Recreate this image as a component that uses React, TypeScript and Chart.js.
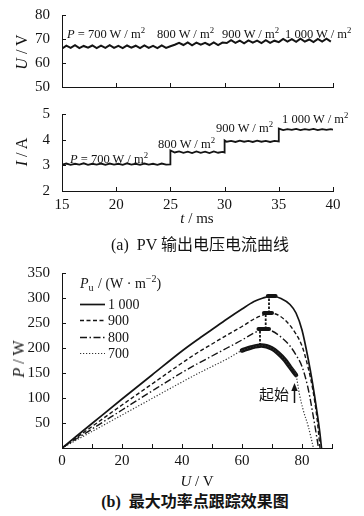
import React, { useEffect, useRef } from 'react';
import { Chart, registerables } from 'chart.js';
Chart.register(...registerables);

const SERIF = '"Liberation Serif", "DejaVu Serif", serif';
const CJK = '"Noto Sans CJK SC", "Noto Sans CJK JP", sans-serif';
const INK = '#141414';

// ---------------- data: (a) PV output voltage & current ----------------
const uTime = [
  15.0, 15.4, 15.8, 16.2, 16.6, 17.0, 17.4, 17.8, 18.2, 18.6, 19.0, 19.4, 19.8,
  20.2, 20.6, 21.0, 21.4, 21.8, 22.2, 22.6, 23.0, 23.4, 23.8, 24.2, 24.6, 25.0,
  25.4, 25.8, 26.2, 26.6, 27.0, 27.4, 27.8, 28.2, 28.6, 29.0, 29.4, 29.8,
  30.2, 30.6, 31.0, 31.4, 31.8, 32.2, 32.6, 33.0, 33.4, 33.8, 34.2, 34.6,
  35.0, 35.4, 35.8, 36.2, 36.6, 37.0, 37.4, 37.8, 38.2, 38.6, 39.0, 39.4, 39.8,
];
const uVolt = [
  66.0, 67.2, 66.3, 67.4, 66.2, 67.1, 66.4, 67.3, 66.2, 67.2, 66.3, 67.4, 66.3,
  67.1, 66.2, 67.3, 66.4, 67.2, 66.2, 67.3, 66.3, 67.1, 66.2, 67.3, 66.3, 67.0,
  67.6, 68.4, 67.5, 68.6, 67.4, 68.5, 67.6, 68.4, 67.5, 68.6, 67.5, 68.5,
  68.3, 69.5, 68.4, 69.3, 68.2, 69.4, 68.5, 69.3, 68.3, 69.5, 68.4, 69.3,
  68.7, 70.0, 68.9, 69.9, 68.8, 70.1, 68.9, 69.8, 68.7, 70.0, 68.9, 70.1, 68.9,
];
const iTime = [
  15.0, 15.4, 15.8, 16.2, 16.6, 17.0, 17.4, 17.8, 18.2, 18.6, 19.0, 19.4, 19.8,
  20.2, 20.6, 21.0, 21.4, 21.8, 22.2, 22.6, 23.0, 23.4, 23.8, 24.2, 24.6, 25.0,
  25.0, 25.4, 25.8, 26.2, 26.6, 27.0, 27.4, 27.8, 28.2, 28.6, 29.0, 29.4, 29.8, 30.0,
  30.0, 30.2, 30.6, 31.0, 31.4, 31.8, 32.2, 32.6, 33.0, 33.4, 33.8, 34.2, 34.6, 35.0,
  35.0, 35.4, 35.8, 36.2, 36.6, 37.0, 37.4, 37.8, 38.2, 38.6, 39.0, 39.4, 39.8, 40.0,
];
const iAmp = [
  3.03, 3.07, 3.02, 3.06, 3.03, 3.08, 3.02, 3.06, 3.03, 3.07, 3.02, 3.07, 3.03,
  3.06, 3.02, 3.08, 3.03, 3.06, 3.02, 3.07, 3.03, 3.06, 3.02, 3.07, 3.03, 3.04,
  3.58, 3.50, 3.54, 3.49, 3.53, 3.48, 3.54, 3.49, 3.53, 3.48, 3.54, 3.49, 3.52, 3.50,
  3.97, 3.92, 3.95, 3.91, 3.96, 3.92, 3.95, 3.91, 3.96, 3.92, 3.95, 3.91, 3.95, 3.93,
  4.43, 4.37, 4.41, 4.38, 4.42, 4.37, 4.41, 4.38, 4.42, 4.37, 4.41, 4.38, 4.41, 4.39,
];
const irradianceLabels = ['700', '800', '900', '1 000'];

// ---------------- data: (b) P-U curves & MPPT track ----------------
const pvLegendLabels = ['1 000', '900', '800', '700'];
const pv1000V = [0, 10, 20, 30, 40, 45, 50, 55, 60, 64, 67, 70, 73, 76, 78, 80, 82, 83.5, 85, 86, 86.5];
const pv1000P = [0, 49, 98, 146, 194, 216, 237, 258, 278, 293, 300, 304, 299, 287, 270, 236, 180, 130, 72, 28, 0];
const pv900V = [0, 10, 20, 30, 40, 45, 50, 55, 60, 64, 67, 69, 72, 75, 78, 80, 82, 83.5, 85, 86];
const pv900P = [0, 43, 86, 128, 170, 190, 208, 226, 243, 258, 266, 270, 266, 252, 228, 204, 162, 120, 60, 0];
const pv800V = [0, 10, 20, 30, 40, 45, 50, 55, 60, 64, 67.5, 70, 73, 76, 78, 80, 82, 84, 85.5];
const pv800P = [0, 38, 76, 114, 151, 168, 184, 200, 216, 230, 238, 234, 222, 204, 186, 163, 120, 55, 0];
const pv700V = [0, 10, 20, 30, 40, 45, 50, 55, 60, 63, 66.5, 70, 72, 74.3, 76, 78, 79.1, 80.4, 82.1, 83.2, 83.8];
const pv700P = [0, 33, 66, 99, 132, 148, 163, 178, 195, 201, 205, 199, 190, 176, 162, 146, 109, 76, 43, 16, 0];
const track700V = [60, 63, 66.5, 70, 72, 74.3, 76, 78];
const track700P = [195, 201, 205, 199, 190, 176, 162, 146];
const peakLevelP = [238, 270, 304];
const peakFromV = [65.5, 67.3, 68.6];
const peakToV = [69, 70, 71.2];
const jumpV = [66, 67.9, 69];
const jumpFromP = [205, 238, 270];
const jumpToP = [238, 270, 304];
const arrowV = 77.3;
const arrowFromP = 90;
const arrowToP = 130;

// styles (kept apart from the data)
const pvStyles = [
  { dash: [] as number[], width: 1.7, color: INK },
  { dash: [4, 2.5], width: 1.4, color: INK },
  { dash: [7, 2.5, 1.5, 2.5], width: 1.4, color: INK },
  { dash: [1.2, 1.8], width: 1.2, color: '#333' },
];

const xy = (xs: number[], ys: number[]) => xs.map((x, i) => ({ x, y: ys[i] }));

const inwardTicks = {
  id: 'inwardTicks',
  afterDatasetsDraw(chart: any) {
    const { ctx, chartArea: ca, scales } = chart;
    ctx.save();
    ctx.strokeStyle = INK;
    ctx.lineWidth = 1;
    ctx.beginPath();
    const xs = scales.x;
    const ys = scales.y;
    xs.ticks.forEach((t: any) => {
      const p = Math.round(xs.getPixelForValue(t.value)) + 0.5;
      if (Math.abs(p - ca.left) < 2) return;
      ctx.moveTo(p, ca.bottom);
      ctx.lineTo(p, ca.bottom - 4);
    });
    ys.ticks.forEach((t: any) => {
      const p = Math.round(ys.getPixelForValue(t.value)) + 0.5;
      if (Math.abs(p - ca.bottom) < 2) return;
      ctx.moveTo(ca.left, p);
      ctx.lineTo(ca.left + 4, p);
    });
    ctx.stroke();
    ctx.restore();
  },
};

function axis(min: number, max: number, step: number, opts: any = {}) {
  return {
    type: 'linear',
    min,
    max,
    grid: { display: false },
    border: { display: true, color: INK, width: 1 },
    ticks: {
      stepSize: step,
      color: INK,
      font: { family: SERIF, size: 15 },
      padding: 4,
      autoSkip: false,
      maxRotation: 0,
      ...(opts.ticks || {}),
    },
    afterFit: opts.afterFit,
  };
}

const baseOptions = (padding: any) => ({
  animation: false,
  responsive: false,
  events: [],
  layout: { padding },
  plugins: { legend: { display: false }, tooltip: { enabled: false } },
});

function cfgU(): any {
  return {
    type: 'line',
    data: {
      datasets: [
        { data: xy(uTime, uVolt), borderColor: INK, borderWidth: 2, pointRadius: 0, tension: 0 },
      ],
    },
    options: {
      ...baseOptions({ top: 15, right: 31, bottom: 9, left: 0 }),
      scales: {
        x: axis(15, 40, 5, { ticks: { display: false }, afterFit: (s: any) => { s.height = 0; } }),
        y: axis(50, 80, 10, { afterFit: (s: any) => { s.width = 62; } }),
      },
    },
    plugins: [inwardTicks],
  };
}

function cfgI(): any {
  return {
    type: 'line',
    data: {
      datasets: [
        { data: xy(iTime, iAmp), borderColor: INK, borderWidth: 1.8, pointRadius: 0, tension: 0 },
      ],
    },
    options: {
      ...baseOptions({ top: 14, right: 31, bottom: 14, left: 0 }),
      scales: {
        x: axis(15, 40, 5, { ticks: { padding: -3 }, afterFit: (s: any) => { s.height = 20; } }),
        y: axis(2, 5, 1, { afterFit: (s: any) => { s.width = 62; } }),
      },
    },
    plugins: [inwardTicks],
  };
}

const pvLegend = {
  id: 'pvLegend',
  afterDatasetsDraw(chart: any) {
    const { ctx, chartArea: ca } = chart;
    const x0 = ca.left + 18;
    ctx.save();
    ctx.fillStyle = INK;
    ctx.textBaseline = 'alphabetic';
    let x = x0;
    const by = ca.top + 15;
    ctx.font = `italic 14px ${SERIF}`;
    ctx.fillText('P', x, by);
    x += ctx.measureText('P').width;
    ctx.font = `10px ${SERIF}`;
    ctx.fillText('u', x, by + 3);
    x += ctx.measureText('u').width + 1;
    ctx.font = `14px ${SERIF}`;
    const s1 = ' / (W \u00b7 m';
    ctx.fillText(s1, x, by);
    x += ctx.measureText(s1).width;
    ctx.font = `10px ${SERIF}`;
    ctx.fillText('\u22122', x, by - 6);
    x += ctx.measureText('\u22122').width;
    ctx.font = `14px ${SERIF}`;
    ctx.fillText(')', x, by);

    pvLegendLabels.forEach((label, i) => {
      const st = pvStyles[i];
      const y = Math.round(ca.top + 31 + i * 16.4) + 0.5;
      ctx.beginPath();
      ctx.setLineDash(st.dash);
      ctx.lineWidth = st.width;
      ctx.strokeStyle = st.color;
      ctx.moveTo(x0, y);
      ctx.lineTo(x0 + 25, y);
      ctx.stroke();
      ctx.setLineDash([]);
      ctx.font = `14px ${SERIF}`;
      ctx.textBaseline = 'middle';
      ctx.fillText(label, x0 + 28, y + 1);
    });
    ctx.restore();
  },
};

const arrowPlugin = {
  id: 'startArrow',
  afterDatasetsDraw(chart: any) {
    const { ctx, scales } = chart;
    const px = Math.round(scales.x.getPixelForValue(arrowV)) + 0.5;
    const y0 = scales.y.getPixelForValue(arrowFromP);
    const y1 = scales.y.getPixelForValue(arrowToP);
    ctx.save();
    ctx.strokeStyle = INK;
    ctx.fillStyle = INK;
    ctx.lineWidth = 1.5;
    ctx.beginPath();
    ctx.moveTo(px, y0);
    ctx.lineTo(px, y1 + 6);
    ctx.stroke();
    ctx.beginPath();
    ctx.moveTo(px, y1);
    ctx.lineTo(px - 3.2, y1 + 8);
    ctx.lineTo(px + 3.2, y1 + 8);
    ctx.closePath();
    ctx.fill();
    ctx.restore();
  },
};

function cfgPV(): any {
  const curves = [
    [pv1000V, pv1000P],
    [pv900V, pv900P],
    [pv800V, pv800P],
    [pv700V, pv700P],
  ];
  const datasets: any[] = curves.map(([v, p], i) => ({
    label: pvLegendLabels[i],
    data: xy(v, p),
    borderColor: pvStyles[i].color,
    borderWidth: pvStyles[i].width,
    borderDash: pvStyles[i].dash,
    pointRadius: 0,
    cubicInterpolationMode: 'monotone',
  }));
  datasets.push({
    data: xy(track700V, track700P),
    borderColor: INK,
    borderWidth: 4.5,
    borderCapStyle: 'round',
    pointRadius: 0,
    cubicInterpolationMode: 'monotone',
  });
  peakLevelP.forEach((p, i) => {
    datasets.push({
      data: xy([peakFromV[i], peakToV[i]], [p, p]),
      borderColor: INK,
      borderWidth: 4,
      borderCapStyle: 'round',
      pointRadius: 0,
    });
  });
  jumpV.forEach((v, i) => {
    datasets.push({
      data: xy([v, v], [jumpFromP[i], jumpToP[i]]),
      borderColor: INK,
      borderWidth: 1.8,
      borderDash: [2.5, 1.5],
      pointRadius: 0,
    });
  });
  return {
    type: 'line',
    data: { datasets },
    options: {
      ...baseOptions({ top: 18, right: 32, bottom: 12, left: 0 }),
      scales: {
        x: axis(0, 90, 10, {
          ticks: { padding: -4, callback: (v: number) => (v % 20 === 0 ? v : '') },
          afterFit: (s: any) => { s.height = 20; },
        }),
        y: axis(0, 350, 50, {
          ticks: { callback: (v: number) => (v === 0 ? '' : v) },
          afterFit: (s: any) => { s.width = 62; },
        }),
      },
    },
    plugins: [inwardTicks, pvLegend, arrowPlugin],
  };
}

const supStyle: React.CSSProperties = {
  fontSize: '0.7em',
  position: 'relative',
  top: '-0.5em',
  verticalAlign: 'baseline',
  lineHeight: 0,
};

const Irr = ({ label, withP }: { label: string; withP?: boolean }) => (
  <>
    {withP && (
      <>
        <i>P</i>
        {' = '}
      </>
    )}
    {label} W / m<sup style={supStyle}>2</sup>
  </>
);

const txt = (left: number, baseline: number, size = 12.5): React.CSSProperties => ({
  position: 'absolute',
  left,
  top: baseline - size * 0.84,
  fontFamily: SERIF,
  fontSize: size,
  lineHeight: 1,
  whiteSpace: 'nowrap',
  color: INK,
});

const centered = (cx: number, cy: number, size: number, family: string, rotate = false): React.CSSProperties => ({
  position: 'absolute',
  left: cx,
  top: cy,
  transform: `translate(-50%, -50%)${rotate ? ' rotate(-90deg)' : ''}`,
  fontFamily: family,
  fontSize: size,
  lineHeight: 1,
  whiteSpace: 'nowrap',
  color: INK,
});

export default function App() {
  const refA = useRef<HTMLCanvasElement>(null);
  const refB = useRef<HTMLCanvasElement>(null);
  const refC = useRef<HTMLCanvasElement>(null);

  useEffect(() => {
    const charts = [
      new Chart(refA.current!, cfgU()),
      new Chart(refB.current!, cfgI()),
      new Chart(refC.current!, cfgPV()),
    ];
    return () => charts.forEach((c) => c.destroy());
  }, []);

  return (
    <div
      style={{
        position: 'absolute',
        left: 0,
        top: 0,
        width: 364,
        height: 516,
        background: '#fff',
        overflow: 'hidden',
      }}
    >
      <canvas ref={refA} width={364} height={100} style={{ position: 'absolute', left: 0, top: 0 }} />
      <canvas ref={refB} width={364} height={125} style={{ position: 'absolute', left: 0, top: 100 }} />
      <canvas ref={refC} width={364} height={225} style={{ position: 'absolute', left: 0, top: 255 }} />

      {/* (a) upper annotations */}
      <div style={txt(67, 38)}><Irr label={irradianceLabels[0]} withP /></div>
      <div style={txt(157, 38)}><Irr label={irradianceLabels[1]} /></div>
      <div style={txt(222, 38)}><Irr label={irradianceLabels[2]} /></div>
      <div style={txt(285, 38)}><Irr label={irradianceLabels[3]} /></div>

      {/* (a) lower annotations */}
      <div style={txt(70, 163)}><Irr label={irradianceLabels[0]} withP /></div>
      <div style={txt(158, 148)}><Irr label={irradianceLabels[1]} /></div>
      <div style={txt(216, 132)}><Irr label={irradianceLabels[2]} /></div>
      <div style={txt(282, 123)}><Irr label={irradianceLabels[3]} /></div>

      {/* axis titles */}
      <div style={centered(21.5, 52, 16, SERIF, true)}><i>U</i> / V</div>
      <div style={centered(22, 152, 16, SERIF, true)}><i>I</i> / A</div>
      <div style={centered(197, 218, 15, SERIF)}><i>t</i> / ms</div>
      <div style={centered(18.5, 359, 16, SERIF, true)}><i>P</i> / W</div>
      <div style={centered(197, 481, 15, SERIF)}><i>U</i> / V</div>

      {/* captions */}
      <div style={centered(200, 245, 16, `${SERIF}, ${CJK}`)}>(a)&nbsp; PV 输出电压电流曲线</div>
      <div style={{ ...centered(195, 502, 16, `${SERIF}, ${CJK}`), fontWeight: 700 }}>(b)&nbsp; 最大功率点跟踪效果图</div>

      {/* start marker label */}
      <div style={centered(274, 393, 15, CJK)}>起始</div>
    </div>
  );
}
